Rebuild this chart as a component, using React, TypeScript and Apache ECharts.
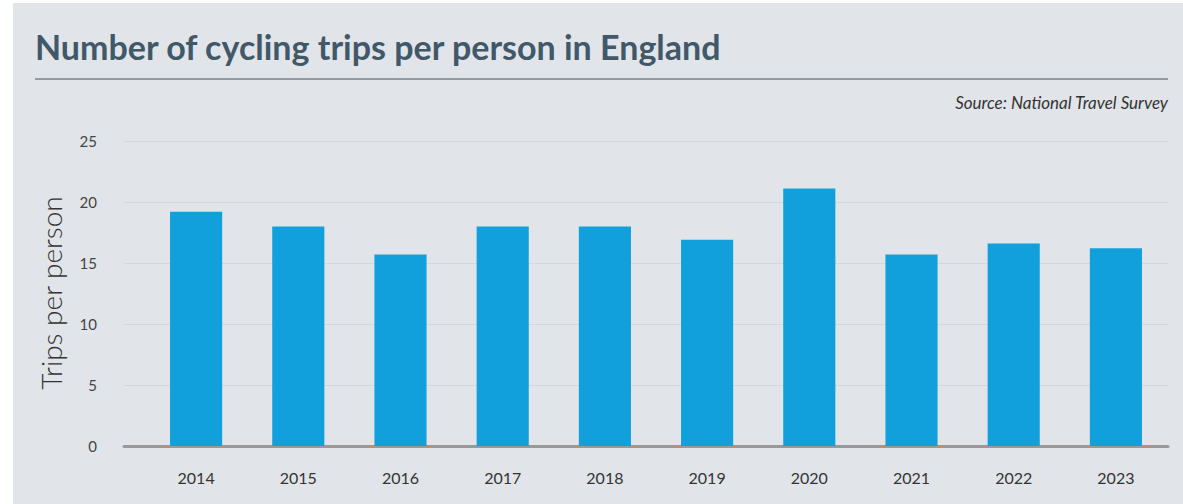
import React, { useEffect, useRef } from "react";
import * as echarts from "echarts";

const years = ["2014", "2015", "2016", "2017", "2018", "2019", "2020", "2021", "2022", "2023"];
const tripsPerPerson = [19.2, 18.0, 15.7, 18.0, 18.0, 16.9, 21.1, 15.7, 16.6, 16.2];
const yTicks = { min: 0, max: 25, interval: 5 };
const titleText = "Number of cycling trips per person in England";
const sourceText = "Source: National Travel Survey";
const yAxisName = "Trips per person";

export default function App() {
  const ref = useRef<HTMLDivElement>(null);
  useEffect(() => {
    if (!ref.current) return;
    const chart = echarts.init(ref.current, null, { renderer: "svg" });
    const top = 141;
    const bottom = 504 - 446;
    chart.setOption({
      animation: false,
      backgroundColor: "#ffffff",
      textStyle: { fontFamily: "Lato" },
      graphic: [
        { type: "rect", z: -10, shape: { x: 13, y: 3, width: 1170, height: 501 }, style: { fill: "#e1e5ea" } },
        {
          type: "text", x: 35, y: 46,
          style: { text: titleText, fill: "#415868", font: "bold 34px Lato", textVerticalAlign: "middle" },
        },
        { type: "line", shape: { x1: 35, y1: 79, x2: 1168, y2: 79 }, style: { stroke: "#3f5567", lineWidth: 1 } },
        {
          type: "text", x: 1168, y: 102,
          style: { text: sourceText, fill: "#333333", font: "italic 17px Lato", textAlign: "right", textVerticalAlign: "middle" },
        },
        {
          type: "text", x: 51, y: 293, rotation: Math.PI / 2,
          style: { text: yAxisName, fill: "#333333", font: "300 28px Lato", textAlign: "center", textVerticalAlign: "middle" },
        },
      ],
      grid: [
        { left: 124, right: 15, top, bottom },
        { left: 145, right: 16, top, bottom },
      ],
      xAxis: [
        {
          gridIndex: 0, type: "category", data: [""],
          axisLine: { show: true, lineStyle: { color: "#999999", width: 3 } },
          axisTick: { show: false }, axisLabel: { show: false },
        },
        {
          gridIndex: 1, type: "category", data: years,
          axisLine: { show: false }, axisTick: { show: false },
          axisLabel: { color: "#333333", fontSize: 16, margin: 23 },
        },
      ],
      yAxis: [
        {
          gridIndex: 0, type: "value", ...yTicks,
          axisLine: { show: false }, axisTick: { show: false },
          axisLabel: { color: "#444444", fontSize: 15, margin: 27 },
          splitLine: { lineStyle: { color: "#d3d7dc", width: 1 } },
        },
        {
          gridIndex: 1, type: "value", ...yTicks, show: false,
          splitLine: { show: false },
        },
      ],
      series: [
        {
          type: "bar", xAxisIndex: 1, yAxisIndex: 1, data: tripsPerPerson,
          barWidth: "51%", itemStyle: { color: "#11a0db" }, z: 5,
        },
      ],
    });
    return () => chart.dispose();
  }, []);
  return (
    <div
      ref={ref}
      style={{ position: "absolute", left: 0, top: 0, width: 1183, height: 504 }}
    />
  );
}
